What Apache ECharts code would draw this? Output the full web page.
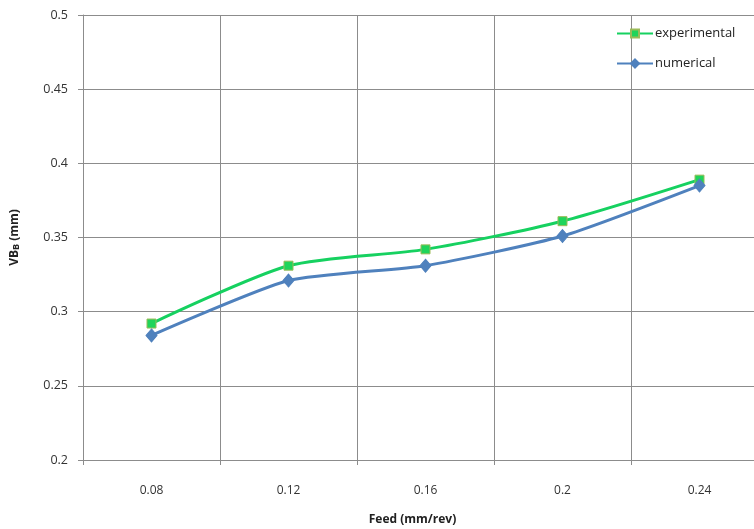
<!DOCTYPE html>
<html><head><meta charset="utf-8">
<script src="https://cdn.jsdelivr.net/npm/echarts@6/dist/echarts.min.js"></script>
<style>html,body{margin:0;padding:0;background:#fff;overflow:hidden}#c{width:754px;height:529px}</style>
</head><body><div id="c"></div>
<script>
var categories = ['0.08','0.12','0.16','0.2','0.24'];
var experimental = [0.292, 0.331, 0.342, 0.361, 0.389];
var numerical = [0.284, 0.321, 0.331, 0.351, 0.385];
var yTicks = {min:0.2, max:0.5, interval:0.05};

var chart = echarts.init(document.getElementById('c'));
var font = 'Open Sans';
chart.setOption({
  animation:false,
  grid:{left:83, width:685, top:15, height:445, containLabel:false, outerBoundsMode:'none'},
  legend:{
    left:611, top:22, orient:'vertical', itemGap:17, itemWidth:36, itemHeight:10,
    textStyle:{fontFamily:font, fontSize:13, color:'#222', padding:[0,0,0,-3]},
    data:['experimental','numerical']
  },
  xAxis:{
    type:'category', data:categories, boundaryGap:true,
    name:'Feed (mm/rev)', nameLocation:'middle', nameGap:54,
    nameTextStyle:{fontFamily:font, fontSize:12, fontWeight:'bold', color:'#222', padding:[0,26,0,0]},
    axisLine:{lineStyle:{color:'#8c8c8c', width:1}},
    axisTick:{show:true, alignWithLabel:false, length:5, lineStyle:{color:'#8c8c8c'}},
    axisLabel:{fontFamily:font, fontSize:12, color:'#333', margin:25},
    splitLine:{show:true, lineStyle:{color:'#8c8c8c', width:1}}
  },
  yAxis:{
    type:'value', min:yTicks.min, max:yTicks.max, interval:yTicks.interval,
    name:'{a|VB}{b|B}{a| (mm)}', nameLocation:'middle', nameGap:62, nameRotate:90,
    nameTextStyle:{rich:{a:{fontFamily:font, fontSize:12, fontWeight:'bold', color:'#222'}, b:{fontFamily:font, fontSize:9, fontWeight:'bold', color:'#222', padding:[4,0,0,0]}}},
    axisLine:{show:true, lineStyle:{color:'#8c8c8c', width:1}},
    axisTick:{show:true, length:5, lineStyle:{color:'#8c8c8c'}},
    axisLabel:{fontFamily:font, fontSize:12.5, color:'#333', margin:15, formatter:function(v){return String(parseFloat(v.toFixed(2)));}},
    splitLine:{show:true, lineStyle:{color:'#8c8c8c', width:1}}
  },
  series:[
    {name:'experimental', type:'line', data:experimental, smooth:0.25,
     symbol:'rect', symbolSize:9,
     lineStyle:{color:'#16d160', width:3},
     itemStyle:{color:'#1fd45a', borderColor:'#9bbb59', borderWidth:1}},
    {name:'numerical', type:'line', data:numerical, smooth:0.2,
     symbol:'diamond', symbolSize:[11,13],
     lineStyle:{color:'#4f81bd', width:3},
     itemStyle:{color:'#4f81bd', borderColor:'#4f81bd', borderWidth:1}}
  ]
});
</script></body></html>
